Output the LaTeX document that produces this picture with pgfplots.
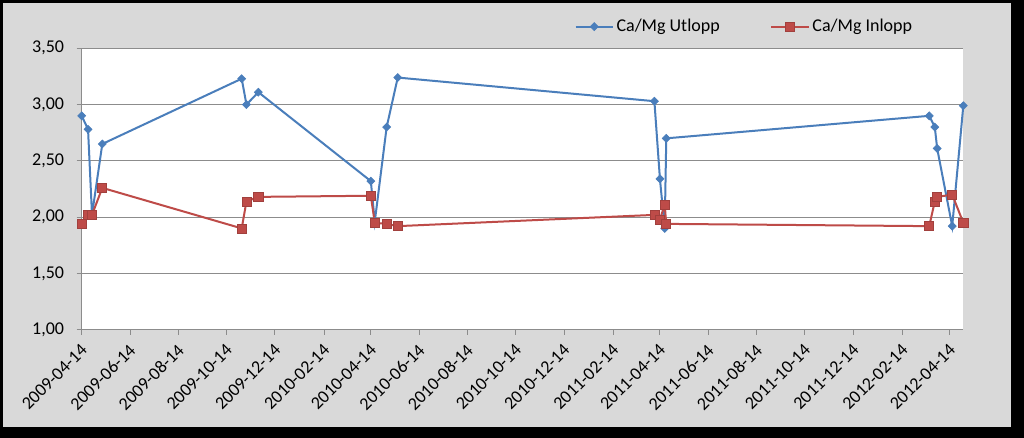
\documentclass[border=0pt]{standalone}
\usepackage{fontspec}
\setmainfont{Carlito}
\usepackage{pgfplots}
\usepackage{pgfplotstable}
\pgfplotsset{compat=1.18}
\usepgfplotslibrary{dateplot}
\definecolor{bgGray}{HTML}{D9D9D9}
\definecolor{gridGray}{HTML}{8C8C8C}
\definecolor{serBlue}{HTML}{4A7EBB}
\definecolor{serRed}{HTML}{BE4B48}

\pgfplotstableread{
date v
2009-04-14 2.90
2009-04-22 2.78
2009-04-27 2.02
2009-05-10 2.65
2009-11-02 3.23
2009-11-08 3.00
2009-11-23 3.11
2010-04-14 2.32
2010-04-19 1.96
2010-05-04 2.80
2010-05-18 3.24
2011-04-07 3.03
2011-04-14 2.34
2011-04-20 1.90
2011-04-22 2.70
2012-03-19 2.90
2012-03-26 2.80
2012-03-29 2.61
2012-04-17 1.92
2012-05-01 2.99
}\utlopp

\pgfplotstableread{
date v
2009-04-14 1.94
2009-04-22 2.02
2009-04-27 2.02
2009-05-10 2.26
2009-11-02 1.90
2009-11-08 2.14
2009-11-23 2.18
2010-04-14 2.19
2010-04-19 1.95
2010-05-04 1.94
2010-05-18 1.92
2011-04-07 2.02
2011-04-14 1.98
2011-04-20 2.11
2011-04-22 1.94
2012-03-19 1.92
2012-03-26 2.14
2012-03-29 2.18
2012-04-17 2.20
2012-05-01 1.95
}\inlopp

\begin{document}
\begin{tikzpicture}[x=0.75pt,y=0.75pt]
\fill[black] (0,0) rectangle (1024,438);
\fill[bgGray] (3,11.3) rectangle (1010.5,435);
\begin{axis}[
  at={(61.275pt,81.225pt)}, anchor=south west,
  scale only axis, width=661.2pt, height=211.05pt,
  date coordinates in=x, date ZERO=2009-04-14,
  xmin=2009-04-14, xmax=2012-05-01,
  ymin=1, ymax=3.5,
  ytick={1,1.5,2,2.5,3,3.5},
  xtick={2009-04-14,2009-06-14,2009-08-14,2009-10-14,2009-12-14,2010-02-14,2010-04-14,2010-06-14,2010-08-14,2010-10-14,2010-12-14,2011-02-14,2011-04-14,2011-06-14,2011-08-14,2011-10-14,2011-12-14,2012-02-14,2012-04-14},
  xticklabels={2009-04-14,2009-06-14,2009-08-14,2009-10-14,2009-12-14,2010-02-14,2010-04-14,2010-06-14,2010-08-14,2010-10-14,2010-12-14,2011-02-14,2011-04-14,2011-06-14,2011-08-14,2011-10-14,2011-12-14,2012-02-14,2012-04-14},
  axis x line*=bottom, axis y line*=left,
  axis line style={gridGray, line width=0.75pt},
  tick align=outside, major tick length=3.75pt,
  tick style={gridGray, line width=0.75pt},
  ymajorgrids, grid style={gridGray, line width=0.75pt},
  axis background/.style={fill=white},
  yticklabel style={/pgf/number format/fixed, /pgf/number format/fixed zerofill, /pgf/number format/precision=2, /pgf/number format/use comma, /pgf/number format/assume math mode=true, xshift=-6pt},
  tick label style={font=\fontsize{13.5}{15}\selectfont, black},
  xticklabel style={xshift=4.3pt, yshift=-7pt, rotate=45, anchor=east},
  clip=false,
  legend style={at={(0.752,1.077)}, anchor=center, draw=none, fill=none,
    font=\fontsize{13.5}{15}\selectfont, legend columns=2,
    /tikz/every even column/.append style={column sep=36pt}},
  legend image code/.code={\draw[#1, mark repeat=2, mark phase=2] plot coordinates {(0pt,0pt) (14pt,0pt) (28pt,0pt)};},
]
\addplot[serBlue, line width=1.5pt, mark=square*, mark size=2.1pt, mark options={rotate=45, fill=serBlue, draw=serBlue, line width=0.5pt}] table[x=date, y=v] {\utlopp};
\addlegendentry{Ca/Mg Utlopp}
\addplot[serRed, line width=1.5pt, mark=square*, mark size=3.4pt, mark options={fill=serRed, draw=serRed!85!black, line width=0.5pt}] table[x=date, y=v] {\inlopp};
\addlegendentry{Ca/Mg Inlopp}
\end{axis}
\end{tikzpicture}
\end{document}
